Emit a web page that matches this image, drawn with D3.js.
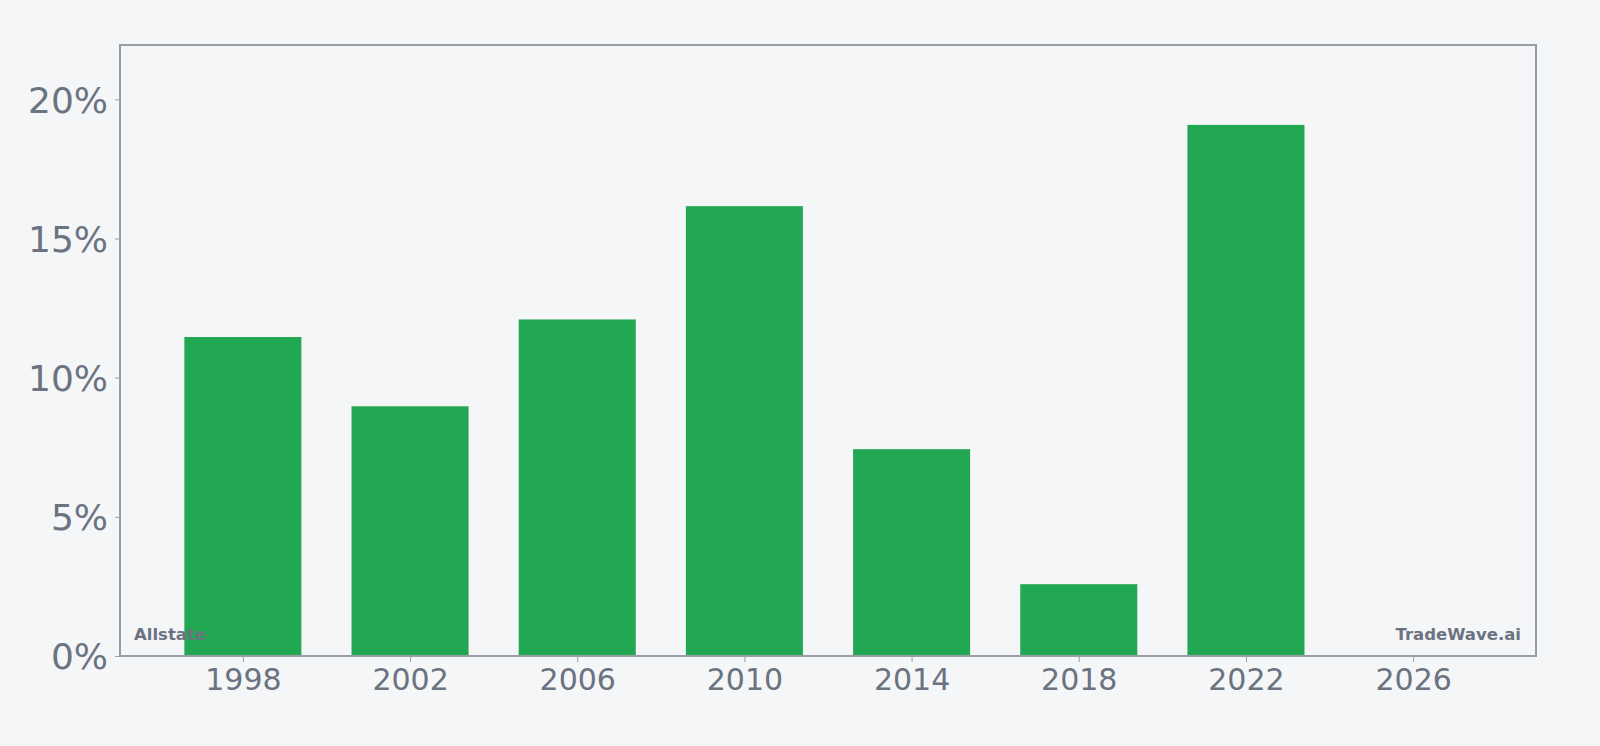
<!DOCTYPE html>
<html>
<head>
<meta charset="utf-8">
<script src="https://cdn.jsdelivr.net/npm/d3@7"></script>
<style>
  html, body { margin: 0; padding: 0; background: #f4f6f8; }
  svg { display: block; }
</style>
</head>
<body>
<svg id="chart" width="1600" height="746"></svg>
<script>
const years = [1998, 2002, 2006, 2010, 2014, 2018, 2022];
const values = [11.46, 8.97, 12.09, 16.16, 7.43, 2.58, 19.08];
const xTicks = [1998, 2002, 2006, 2010, 2014, 2018, 2022, 2026];
const yTicks = [0, 5, 10, 15, 20];
const leftLabel = "Allstate";
const rightLabel = "TradeWave.ai";

const W = 1600, H = 746;
const m = { left: 120, right: 64, top: 45, bottom: 90 };
const svg = d3.select("#chart");
svg.append("rect").attr("width", W).attr("height", H).attr("fill", "#f4f6f8");

const x = d3.scaleLinear().domain([1995.06, 2028.94]).range([m.left, W - m.right]);
const y = d3.scaleLinear().domain([0, 21.95]).range([H - m.bottom, m.top]);
const barW = x(1998 + 2.8) - x(1998);

const textColor = "#6b7280";
const axisColor = "#9a9ca6";

svg.append("g").selectAll("rect").data(years).join("rect")
  .attr("x", (d) => x(d) - barW / 2)
  .attr("y", (d, i) => y(values[i]))
  .attr("width", barW)
  .attr("height", (d, i) => y(0) - y(values[i]))
  .attr("fill", "#22a753");

// frame
svg.append("rect")
  .attr("x", m.left).attr("y", m.top)
  .attr("width", W - m.right - m.left).attr("height", H - m.bottom - m.top)
  .attr("fill", "none").attr("stroke", axisColor).attr("stroke-width", 2);

const xAxis = svg.append("g").attr("transform", `translate(0,${H - m.bottom})`)
  .call(d3.axisBottom(x).tickValues(xTicks).tickFormat(d3.format("d")).tickSize(6).tickPadding(7));
xAxis.select(".domain").remove();
xAxis.selectAll("line").attr("stroke", axisColor);
xAxis.selectAll("text").attr("fill", textColor)
  .style("font-family", "DejaVu Sans").style("font-size", "30px");

const yAxis = svg.append("g").attr("transform", `translate(${m.left},0)`)
  .call(d3.axisLeft(y).tickValues(yTicks).tickFormat((d) => d + "%").tickSize(5).tickPadding(7));
yAxis.select(".domain").remove();
yAxis.selectAll("line").attr("stroke", axisColor);
yAxis.selectAll("text").attr("fill", textColor).attr("dy", "0.36em")
  .style("font-family", "DejaVu Sans").style("font-size", "36px");

svg.append("text").attr("x", m.left + 14).attr("y", H - m.bottom - 16)
  .attr("fill", textColor).style("font-family", "DejaVu Sans").style("font-weight", "bold")
  .style("font-size", "16.5px").text(leftLabel);
svg.append("text").attr("x", W - m.right - 15).attr("y", H - m.bottom - 16)
  .attr("text-anchor", "end")
  .attr("fill", textColor).style("font-family", "DejaVu Sans").style("font-weight", "bold")
  .style("font-size", "16.5px").text(rightLabel);
</script>
</body>
</html>
